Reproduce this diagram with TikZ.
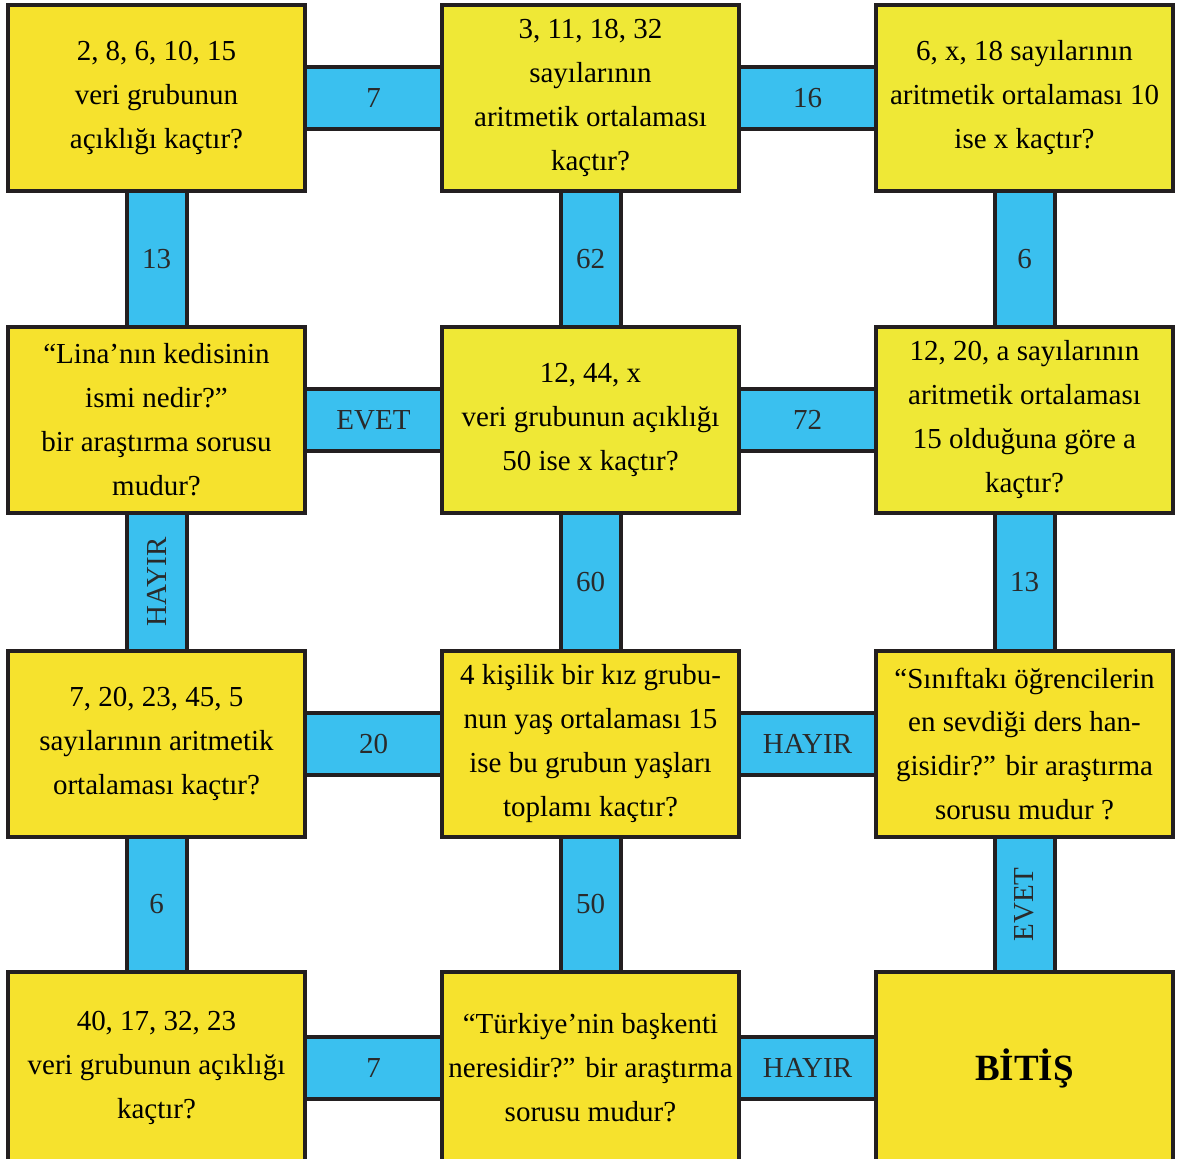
\documentclass[tikz,border=0pt]{standalone}
\usepackage{fontspec}
\setmainfont{Liberation Serif}
\usepackage{tikz}

\definecolor{qyellow}{HTML}{F6E22D}
\definecolor{qlime}{HTML}{EFE836}
\definecolor{bandblue}{HTML}{3AC0EF}
\definecolor{edgecol}{HTML}{231F20}
\definecolor{bandtext}{HTML}{2A2A2A}

\pgfdeclarelayer{bg}
\pgfsetlayers{bg,main}

\begin{document}
\begin{tikzpicture}[x=0.5pt, y=-0.5pt,
    box/.style={draw=edgecol, line width=2pt, fill=qyellow, align=center,
      minimum width=148.5pt, minimum height=93pt, inner sep=0pt,
      font=\fontsize{14.5}{22}\selectfont},
    lastrow/.style={box, minimum height=96pt},
    hband/.style={draw=edgecol, line width=2pt, fill=bandblue, text=bandtext,
      minimum width=80pt, minimum height=31pt, inner sep=0pt,
      font=\fontsize{14.5}{22}\selectfont},
    vband/.style={hband, minimum width=30pt, minimum height=80pt}]

  \useasboundingbox (0,0) rectangle (1180,1159);

  % Columns at x = 156.5, 590.5, 1024.5 (pixels)
  % Rows at y = 98, 420, 744, 1068

  % --- Row 1 ---
  \node[box] (b11) at (156.5,98) {2, 8, 6, 10, 15\\veri grubunun\\açıklığı kaçtır?};
  \node[box, fill=qlime] (b12) at (590.5,98) {3, 11, 18, 32\\sayılarının\\aritmetik ortalaması\\kaçtır?};
  \node[box, fill=qlime] (b13) at (1024.5,98) {6, x, 18 sayılarının\\aritmetik ortalaması 10\\ise x kaçtır?};

  % --- Row 2 ---
  \node[box] (b21) at (156.5,420) {“Lina’nın kedisinin\\ismi nedir?”\\bir araştırma sorusu\\mudur?};
  \node[box, fill=qlime] (b22) at (590.5,420) {12, 44, x\\veri grubunun açıklığı\\50 ise x kaçtır?};
  \node[box, fill=qlime] (b23) at (1024.5,420) {12, 20, a sayılarının\\aritmetik ortalaması\\15 olduğuna göre a\\kaçtır?};

  % --- Row 3 ---
  \node[box] (b31) at (156.5,744) {7, 20, 23, 45, 5\\sayılarının aritmetik\\ortalaması kaçtır?};
  \node[box] (b32) at (590.5,744) {4 kişilik bir kız grubu-\\nun yaş ortalaması 15\\ise bu grubun yaşları\\toplamı kaçtır?};
  \node[box] (b33) at (1024.5,744) {“Sınıftakı öğrencilerin\\en sevdiği ders han-\\gisidir?” bir araştırma\\sorusu mudur ?};

  % --- Row 4 (runs off the bottom edge) ---
  \node[lastrow] (b41) at (156.5,1068) {40, 17, 32, 23\\veri grubunun açıklığı\\kaçtır?};
  \node[lastrow] (b42) at (590.5,1068) {“Türkiye’nin başkenti\\neresidir?” bir araştırma\\sorusu mudur?};
  \node[lastrow] (b43) at (1024.5,1068) {\fontsize{18.5}{22}\selectfont\bfseries BİTİŞ};

  % --- Bands, behind the boxes ---
  \begin{pgfonlayer}{bg}
    % across
    \path (b11) -- node[hband] (h1a) {7} (b12);
    \path (b12) -- node[hband] (h1b) {16} (b13);
    \path (b21) -- node[hband] (h2a) {EVET} (b22);
    \path (b22) -- node[hband] (h2b) {72} (b23);
    \path (b31) -- node[hband] (h3a) {20} (b32);
    \path (b32) -- node[hband] (h3b) {HAYIR} (b33);
    \path (b41) -- node[hband] (h4a) {7} (b42);
    \path (b42) -- node[hband] (h4b) {HAYIR} (b43);
    % down
    \path (b11) -- node[vband] (v1a) {13} (b21);
    \path (b12) -- node[vband] (v1b) {62} (b22);
    \path (b13) -- node[vband] (v1c) {6} (b23);
    \path (b21) -- node[vband] (v2a) {\rotatebox{90}{HAYIR}} (b31);
    \path (b22) -- node[vband] (v2b) {60} (b32);
    \path (b23) -- node[vband] (v2c) {13} (b33);
    \path (b31) -- node[vband] (v3a) {6} (b41);
    \path (b32) -- node[vband] (v3b) {50} (b42);
    \path (b33) -- node[vband] (v3c) {\rotatebox{90}{EVET}} (b43);
  \end{pgfonlayer}

\end{tikzpicture}
\end{document}
